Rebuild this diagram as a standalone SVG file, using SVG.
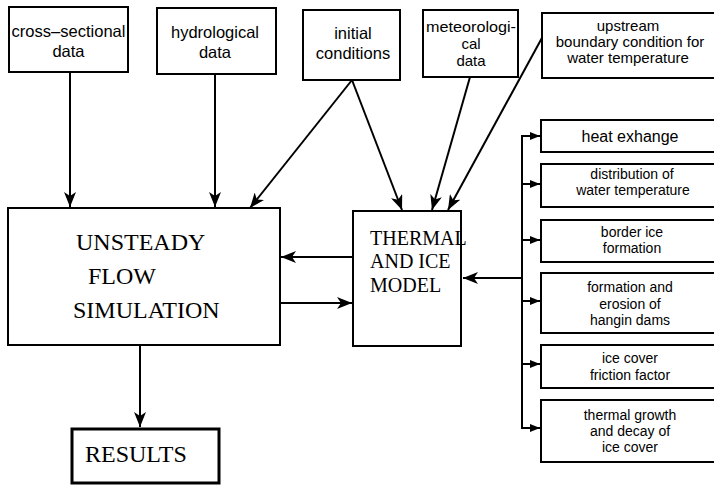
<svg xmlns="http://www.w3.org/2000/svg" width="714" height="485" viewBox="0 0 714 485">
<style>
.box{fill:#fff;stroke:#000;stroke-width:2}
.thick{stroke-width:3}
.s{font-family:"Liberation Sans",Arial,sans-serif;font-size:15px;fill:#000;text-anchor:middle}
.t{font-family:"Liberation Sans",Arial,sans-serif;font-size:16.5px;fill:#000;text-anchor:middle}
.ss{font-family:"Liberation Sans",Arial,sans-serif;font-size:14px;fill:#000;text-anchor:middle}
.r{font-family:"Liberation Serif","Times New Roman",serif;fill:#000}
.c{fill:none;stroke:#000;stroke-width:2}
</style>
<defs>
<marker id="a" markerUnits="userSpaceOnUse" markerWidth="15" markerHeight="12" refX="15" refY="6" orient="auto">
<path d="M0,0 L15,6 L0,12 L4,6 z" fill="#000"/>
</marker>
<marker id="b" markerUnits="userSpaceOnUse" markerWidth="10" markerHeight="8" refX="10" refY="4" orient="auto">
<path d="M0,0 L10,4 L0,8 z" fill="#000"/>
</marker>
</defs>
<rect width="714" height="485" fill="#fff"/>

<g id="connectors">
<path class="c" d="M70,72 V207" marker-end="url(#a)"/>
<path class="c" d="M215,74 V207" marker-end="url(#a)"/>
<path class="c" d="M352,80 L250,208" marker-end="url(#a)"/>
<path class="c" d="M352,80 L402,210" marker-end="url(#a)"/>
<path class="c" d="M470,77 L432,210" marker-end="url(#a)"/>
<path class="c" d="M543,36 L448,210" marker-end="url(#a)"/>
<path class="c" d="M353,257 H281" marker-end="url(#a)"/>
<path class="c" d="M280,303 H352" marker-end="url(#a)"/>
<path class="c" d="M140,345 V427" marker-end="url(#a)"/>
<path class="c" d="M522,136 V428"/>
<path class="c" d="M522,278 H463" marker-end="url(#a)"/>
<path class="c" d="M521,136 H540" marker-end="url(#b)"/>
<path class="c" d="M522,184 H540" marker-end="url(#b)"/>
<path class="c" d="M522,240 H540" marker-end="url(#b)"/>
<path class="c" d="M522,301 H540" marker-end="url(#b)"/>
<path class="c" d="M522,364 H540" marker-end="url(#b)"/>
<path class="c" d="M521,428 H540" marker-end="url(#b)"/>
</g>

<g id="cross-sectional">
<rect class="box" x="9" y="7" width="119" height="65"/>
<text class="t" x="68.5" y="37" textLength="114" lengthAdjust="spacingAndGlyphs">cross–sectional</text>
<text class="t" x="68.5" y="57">data</text>
</g>
<g id="hydrological">
<rect class="box" x="157" y="8" width="119" height="66"/>
<text class="t" x="215" y="38">hydrological</text>
<text class="t" x="215" y="58">data</text>
</g>
<g id="initial">
<rect class="box" x="303" y="10" width="97" height="70"/>
<text class="t" x="353" y="39">initial</text>
<text class="t" x="353" y="59">conditions</text>
</g>
<g id="meteorological">
<rect class="box" x="423" y="10" width="95" height="67"/>
<text class="s" x="471" y="32" textLength="90" lengthAdjust="spacingAndGlyphs">meteorologi-</text>
<text class="s" x="471" y="49">cal</text>
<text class="s" x="471" y="66">data</text>
</g>
<g id="upstream">
<rect class="box" x="542" y="13" width="180" height="65"/>
<text class="s" x="628" y="31">upstream</text>
<text class="s" x="630" y="47">boundary condition for</text>
<text class="s" x="628" y="63">water temperature</text>
</g>

<g id="unsteady">
<rect class="box" x="8" y="208" width="272" height="137"/>
<text class="r" font-size="24" x="76" y="250">UNSTEADY</text>
<text class="r" font-size="24" x="88" y="284">FLOW</text>
<text class="r" font-size="24" x="73" y="318">SIMULATION</text>
</g>
<g id="thermal">
<rect class="box" x="353" y="211" width="108" height="135"/>
<text class="r" font-size="20" x="370" y="245">THERMAL</text>
<text class="r" font-size="20" x="370" y="268">AND ICE</text>
<text class="r" font-size="20" x="370" y="292">MODEL</text>
</g>
<g id="results">
<rect class="box thick" x="72" y="429" width="147" height="54"/>
<text class="r" font-size="24" x="85" y="462">RESULTS</text>
</g>

<g id="heat">
<rect class="box" x="541" y="120" width="180" height="32"/>
<text class="ss" x="630" y="142" style="font-size:16px">heat exhange</text>
</g>
<g id="distribution">
<rect class="box" x="541" y="164" width="180" height="43"/>
<text class="ss" x="632" y="179">distribution of</text>
<text class="ss" x="633" y="195">water temperature</text>
</g>
<g id="border">
<rect class="box" x="541" y="220" width="180" height="42"/>
<text class="ss" x="632" y="237">border ice</text>
<text class="ss" x="632" y="253">formation</text>
</g>
<g id="formation">
<rect class="box" x="541" y="273" width="180" height="60"/>
<text class="ss" x="630" y="292">formation and</text>
<text class="ss" x="630" y="309">erosion of</text>
<text class="ss" x="630" y="325">hangin dams</text>
</g>
<g id="friction">
<rect class="box" x="541" y="345" width="180" height="43"/>
<text class="ss" x="630" y="363">ice cover</text>
<text class="ss" x="630" y="380">friction factor</text>
</g>
<g id="growth">
<rect class="box" x="541" y="400" width="180" height="62"/>
<text class="ss" x="630" y="420">thermal growth</text>
<text class="ss" x="630" y="436">and decay of</text>
<text class="ss" x="630" y="452">ice cover</text>
</g>
</svg>
